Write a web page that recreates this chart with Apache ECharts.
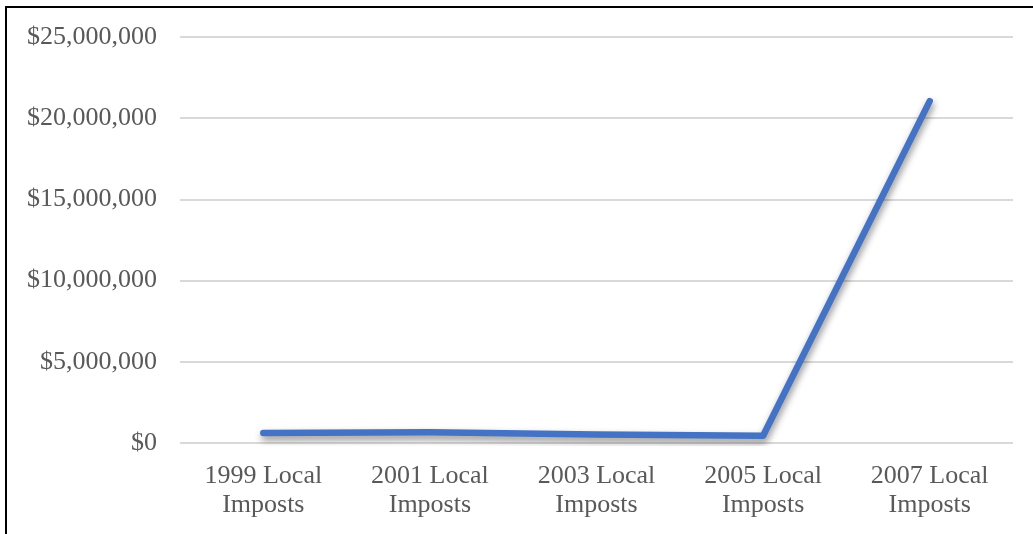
<!DOCTYPE html>
<html>
<head>
<meta charset="utf-8">
<script src="https://cdn.jsdelivr.net/npm/echarts@6/dist/echarts.min.js"></script>
<style>
html,body{margin:0;padding:0;background:#fff;}
#frame{position:absolute;left:5px;top:6px;width:1040px;height:540px;border:2px solid #000;box-sizing:border-box;}
#chart{position:absolute;left:0;top:0;width:1033px;height:534px;}
</style>
</head>
<body>
<div id="frame"></div>
<div id="chart"></div>
<script>
const categories = ["1999 Local\nImposts","2001 Local\nImposts","2003 Local\nImposts","2005 Local\nImposts","2007 Local\nImposts"];
const values = [620000, 660000, 530000, 450000, 21050000];
const yMin = 0, yMax = 25000000, yInterval = 5000000;

const chart = echarts.init(document.getElementById('chart'), null, {renderer:'canvas'});
chart.setOption({
  animation:false,
  backgroundColor:'transparent',
  grid:{left:180,right:20,top:37,bottom:91,containLabel:false},
  xAxis:{
    type:'category',data:categories,boundaryGap:true,
    axisLine:{show:false},axisTick:{show:false},
    axisLabel:{color:'#595959',fontFamily:'Liberation Serif',fontSize:26,lineHeight:29,margin:19,interval:0}
  },
  yAxis:{
    type:'value',min:yMin,max:yMax,interval:yInterval,
    axisLine:{show:false},axisTick:{show:false},
    splitLine:{lineStyle:{color:'#d9d9d9',width:2}},
    axisLabel:{color:'#595959',fontFamily:'Liberation Serif',fontSize:26,margin:23,
      formatter:v=>'$'+v.toLocaleString('en-US')}
  },
  series:[{
    type:'line',data:values,symbol:'none',
    lineStyle:{color:'#4472C4',width:6.5,cap:'round',join:'round',
      shadowColor:'rgba(0,0,0,0.45)',shadowBlur:7,shadowOffsetX:1,shadowOffsetY:4}
  }]
});
</script>
</body>
</html>
